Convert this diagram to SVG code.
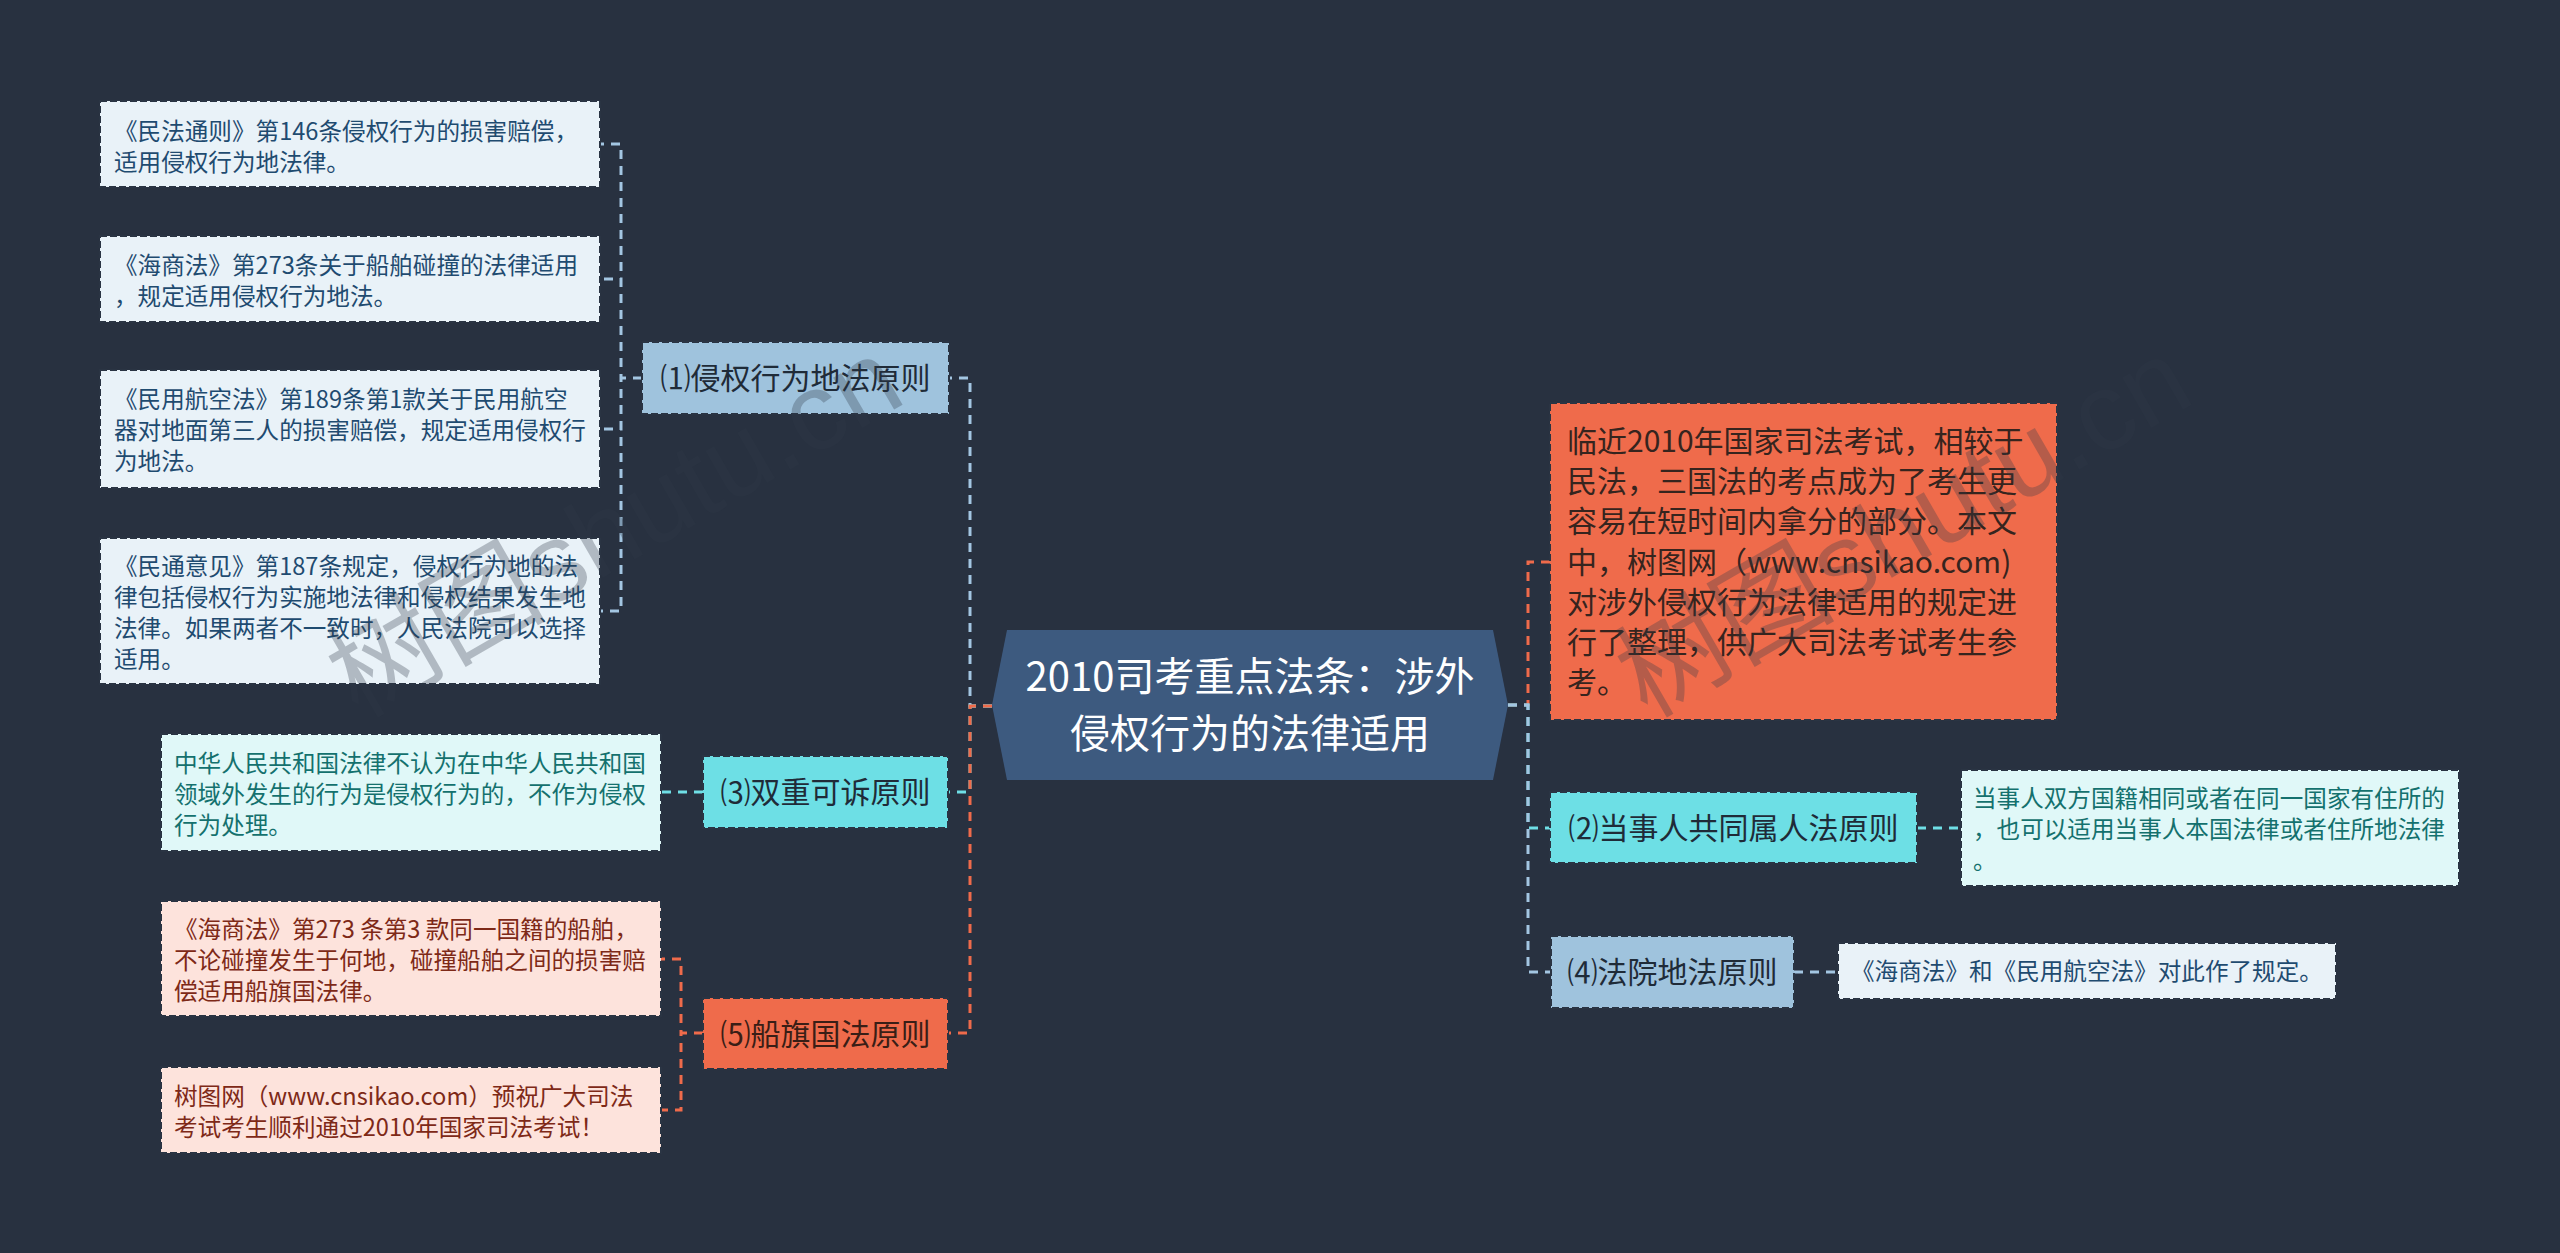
<svg xmlns="http://www.w3.org/2000/svg" width="2560" height="1253" viewBox="0 0 2560 1253">
<style>
text{font-family:"Noto Sans CJK SC","Microsoft YaHei",sans-serif}
.bx{stroke:#2a3443;stroke-width:2;stroke-dasharray:7 3}
.lf{font-size:23.6px}
.nd{font-size:30px;text-anchor:middle;fill:#1f2b38}
.c{fill:none;stroke-width:3;stroke-dasharray:9 7}
.cb{stroke:#a3c6e2}
.cc{stroke:#6fdfe6}
.co{stroke:#ef6b4b}
.tb{fill:#1f4b70}
.tc{fill:#14716e}
.tr{fill:#7e2917}
.wm{font-family:"Liberation Sans","Noto Sans CJK SC",sans-serif;font-size:110px;fill:#303a48;opacity:0.3}
</style>
<rect width="2560" height="1253" fill="#283140"/>
<g id="connectors">
<path class="c cb" d="M642,378H621V144H600M642,378H621V279H600M642,378H621V429H600M642,378H621V611H600"/>
<path class="c cb" d="M992,706H970V378H949"/>
<path class="c cc" d="M992,706H970V792H949"/>
<path class="c co" d="M992,706H970V1033H949"/>
<path class="c cc" d="M703,792H661"/>
<path class="c co" d="M703,1033H681V959H661M703,1033H681V1110H661"/>
<path class="c co" d="M1508,705H1528V562H1550"/>
<path class="c cc" d="M1508,705H1528V828H1550"/>
<path class="c cb" d="M1508,705H1528V972H1551"/>
<path class="c cc" d="M1917,828H1961"/>
<path class="c cb" d="M1794,972H1838"/>
</g>
<g id="center">
<polygon points="1007,630 1493,630 1508,705 1493,780 1007,780 992,705" fill="#3d5a7f"/>
<text x="1250" y="691" font-size="40" fill="#ffffff" text-anchor="middle">2010司考重点法条：涉外</text>
<text x="1250" y="748" font-size="40" fill="#ffffff" text-anchor="middle">侵权行为的法律适用</text>
</g>
<g id="n1">
<rect class="bx" x="642" y="342" width="307" height="72" fill="#9fc3dd"/>
<text class="nd" x="795.5" y="389">⑴侵权行为地法原则</text>
</g>
<g id="n3">
<rect class="bx" x="703" y="756" width="245" height="72" fill="#6ddfe5"/>
<text class="nd" x="825.5" y="803">⑶双重可诉原则</text>
</g>
<g id="n5">
<rect class="bx" x="703" y="998" width="245" height="71" fill="#ef6b4b"/>
<text class="nd" x="825.5" y="1044.5" style="fill:#3a1e16">⑸船旗国法原则</text>
</g>
<g id="n2">
<rect class="bx" x="1550" y="792" width="367" height="71" fill="#6ddfe5"/>
<text class="nd" x="1733.5" y="838.5">⑵当事人共同属人法原则</text>
</g>
<g id="n4">
<rect class="bx" x="1551" y="936" width="243" height="72" fill="#9fc3dd"/>
<text class="nd" x="1672.5" y="983">⑷法院地法原则</text>
</g>
<g id="desc">
<rect class="bx" x="1550" y="403" width="507" height="317" fill="#ef6b4b"/>
<text x="1567" font-size="30" fill="#36241e">
<tspan x="1567" y="452">临近2010年国家司法考试，相较于</tspan>
<tspan x="1567" y="492">民法，三国法的考点成为了考生更</tspan>
<tspan x="1567" y="532">容易在短时间内拿分的部分。本文</tspan>
<tspan x="1567" y="573">中，树图网（www.cnsikao.com)</tspan>
<tspan x="1567" y="613">对涉外侵权行为法律适用的规定进</tspan>
<tspan x="1567" y="653">行了整理，供广大司法考试考生参</tspan>
<tspan x="1567" y="693">考。</tspan>
</text>
</g>
<g id="l1">
<rect class="bx" x="100" y="101" width="500" height="86" fill="#e9f2f8"/>
<text class="lf tb"><tspan x="114" y="139.5">《民法通则》第146条侵权行为的损害赔偿，</tspan><tspan x="114" y="170.5">适用侵权行为地法律。</tspan></text>
</g>
<g id="l2">
<rect class="bx" x="100" y="236" width="500" height="86" fill="#e9f2f8"/>
<text class="lf tb"><tspan x="114" y="273.5">《海商法》第273条关于船舶碰撞的法律适用</tspan><tspan x="114" y="304.5">，规定适用侵权行为地法。</tspan></text>
</g>
<g id="l3">
<rect class="bx" x="100" y="370" width="500" height="118" fill="#e9f2f8"/>
<text class="lf tb"><tspan x="114" y="408">《民用航空法》第189条第1款关于民用航空</tspan><tspan x="114" y="439">器对地面第三人的损害赔偿，规定适用侵权行</tspan><tspan x="114" y="470">为地法。</tspan></text>
</g>
<g id="l4">
<rect class="bx" x="100" y="538" width="500" height="146" fill="#e9f2f8"/>
<text class="lf tb"><tspan x="114" y="574.5">《民通意见》第187条规定，侵权行为地的法</tspan><tspan x="114" y="605.5">律包括侵权行为实施地法律和侵权结果发生地</tspan><tspan x="114" y="636.5">法律。如果两者不一致时，人民法院可以选择</tspan><tspan x="114" y="667.5">适用。</tspan></text>
</g>
<g id="l5">
<rect class="bx" x="161" y="734" width="500" height="117" fill="#e0f8f8"/>
<text class="lf tc"><tspan x="174" y="771.5">中华人民共和国法律不认为在中华人民共和国</tspan><tspan x="174" y="802.5">领域外发生的行为是侵权行为的，不作为侵权</tspan><tspan x="174" y="833.5">行为处理。</tspan></text>
</g>
<g id="l6">
<rect class="bx" x="161" y="901" width="500" height="115" fill="#fde3dc"/>
<text class="lf tr"><tspan x="174" y="937.5">《海商法》第273 条第3 款同一国籍的船舶，</tspan><tspan x="174" y="968.5">不论碰撞发生于何地，碰撞船舶之间的损害赔</tspan><tspan x="174" y="999.5">偿适用船旗国法律。</tspan></text>
</g>
<g id="l7">
<rect class="bx" x="161" y="1067" width="500" height="86" fill="#fde3dc"/>
<text class="lf tr"><tspan x="174" y="1104.5">树图网（www.cnsikao.com）预祝广大司法</tspan><tspan x="174" y="1135.5">考试考生顺利通过2010年国家司法考试！</tspan></text>
</g>
<g id="r1">
<rect class="bx" x="1961" y="770" width="498" height="116" fill="#e0f8f8"/>
<text class="lf tc"><tspan x="1973" y="807">当事人双方国籍相同或者在同一国家有住所的</tspan><tspan x="1973" y="838">，也可以适用当事人本国法律或者住所地法律</tspan><tspan x="1973" y="869">。</tspan></text>
</g>
<g id="r2">
<rect class="bx" x="1838" y="943" width="498" height="56" fill="#e9f2f8"/>
<text class="lf tb" x="1851" y="980">《海商法》和《民用航空法》对此作了规定。</text>
</g>
<g id="watermark">
<text class="wm" x="358" y="719" transform="rotate(-30 358 719)">树图shutu.cn</text>
<text class="wm" x="1647" y="719" transform="rotate(-30 1647 719)">树图shutu.cn</text>
</g>
</svg>
